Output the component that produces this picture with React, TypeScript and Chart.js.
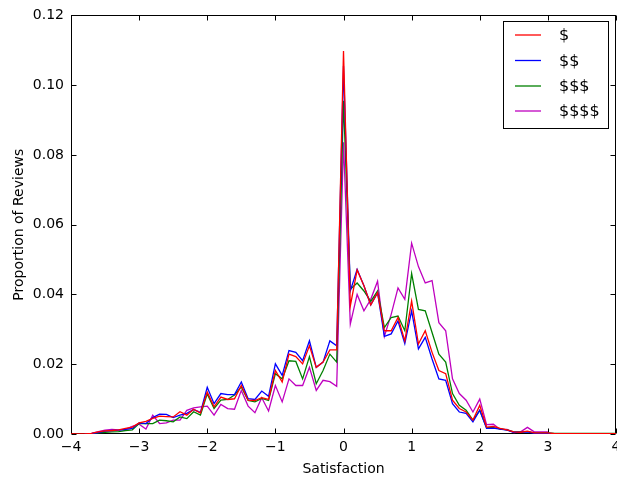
import React, { useEffect, useRef } from "react";
import { Chart, registerables } from "chart.js";

Chart.register(...registerables);

const satisfaction = [
  -4.0, -3.9, -3.8, -3.7, -3.6, -3.5, -3.4, -3.3, -3.2, -3.1,
  -3.0, -2.9, -2.8, -2.7, -2.6, -2.5, -2.4, -2.3, -2.2, -2.1,
  -2.0, -1.9, -1.8, -1.7, -1.6, -1.5, -1.4, -1.3, -1.2, -1.1,
  -1.0, -0.9, -0.8, -0.7, -0.6, -0.5, -0.4, -0.3, -0.2, -0.1,
  0.0, 0.1, 0.2, 0.3, 0.4, 0.5, 0.6, 0.7, 0.8, 0.9,
  1.0, 1.1, 1.2, 1.3, 1.4, 1.5, 1.6, 1.7, 1.8, 1.9,
  2.0, 2.1, 2.2, 2.3, 2.4, 2.5, 2.6, 2.7, 2.8, 2.9,
  3.0, 3.1, 3.2, 3.3, 3.4, 3.5, 3.6, 3.7, 3.8, 3.9,
  4.0,
];

const price1: (number | null)[] = [
  0, 0, 0, 0.0002, 0.0006, 0.0009, 0.001, 0.0012, 0.0016, 0.002,
  0.0032, 0.0036, 0.0045, 0.0051, 0.005, 0.0049, 0.0064, 0.0054, 0.0071, 0.006,
  0.012, 0.0078, 0.0106, 0.0099, 0.0101, 0.0139, 0.0097, 0.0096, 0.0104, 0.0099,
  0.0182, 0.0149, 0.0229, 0.0222, 0.0201, 0.0253, 0.0191, 0.0206, 0.0241, 0.0241,
  0.1098, 0.0367, 0.047, 0.0425, 0.037, 0.0405, 0.0296, 0.0296, 0.0334, 0.0267,
  0.0381, 0.0258, 0.0296, 0.0234, 0.0182, 0.0173, 0.0097, 0.0073, 0.0063, 0.004,
  0.0082, 0.002, 0.0022, 0.0016, 0.0012, 0.0006, 0.0005, 0.0008, 0.0003, 0.0003,
  0.0003, 0.0001, 0.0001, 0.0001, 0.0001, 0.0001, 0.0001, 0.0001, 0.0001, 0.0001,
  0.0001,
];

const price2: (number | null)[] = [
  null, null, 0, 0.0001, 0.0004, 0.0008, 0.001, 0.0011, 0.0013, 0.0016,
  0.0032, 0.003, 0.0047, 0.0057, 0.0056, 0.0047, 0.0054, 0.0059, 0.007, 0.0062,
  0.0134, 0.0087, 0.0116, 0.0113, 0.0113, 0.0149, 0.0101, 0.0099, 0.0123, 0.0108,
  0.0201, 0.0168, 0.0239, 0.0234, 0.021, 0.0267, 0.0191, 0.0206, 0.0267, 0.0253,
  0.1055, 0.041, 0.0472, 0.0425, 0.037, 0.0405, 0.028, 0.0287, 0.0324, 0.0259,
  0.0353, 0.0244, 0.0277, 0.0215, 0.0158, 0.0154, 0.0087, 0.0063, 0.0059, 0.0035,
  0.0068, 0.0016, 0.0017, 0.0014, 0.0011, 0.0005, 0.0005, 0.0006, 0.0002, 0.0002,
  0.0002, 0.0001, 0.0001, 0.0001, 0.0001, 0.0001, 0.0001, 0.0001, 0.0001, 0.0001,
  0.0001,
];

const price3: (number | null)[] = [
  null, null, 0, 0.0001, 0.0003, 0.0005, 0.0006, 0.0007, 0.001, 0.0012,
  0.003, 0.003, 0.003, 0.004, 0.0038, 0.0035, 0.0049, 0.0044, 0.0064, 0.0054,
  0.0115, 0.0073, 0.0097, 0.0099, 0.0112, 0.0135, 0.0096, 0.0092, 0.0102, 0.0096,
  0.0173, 0.0158, 0.021, 0.0208, 0.0158, 0.0222, 0.0144, 0.0182, 0.0229, 0.0206,
  0.0955, 0.0415, 0.0433, 0.041, 0.038, 0.041, 0.0305, 0.0334, 0.0338, 0.0296,
  0.046, 0.0357, 0.0353, 0.0291, 0.0229, 0.0206, 0.0116, 0.0082, 0.0068, 0.004,
  0.0068, 0.0018, 0.0018, 0.0015, 0.0012, 0.0006, 0.0006, 0.0007, 0.0003, 0.0003,
  0.0003, 0.0002, 0.0002, 0.0002, 0.0002, 0.0002, 0.0002, 0.0002, 0.0002, 0.0002,
  0.0002,
];

const price4: (number | null)[] = [
  null, null, null, 0.0002, 0.0007, 0.0011, 0.0013, 0.0012, 0.0013, 0.0022,
  0.0028, 0.0014, 0.0054, 0.003, 0.0032, 0.004, 0.004, 0.0068, 0.0075, 0.0078,
  0.008, 0.0054, 0.0085, 0.0073, 0.0071, 0.0125, 0.008, 0.0061, 0.0104, 0.0066,
  0.0139, 0.0092, 0.0158, 0.0139, 0.0139, 0.0191, 0.0125, 0.0154, 0.015, 0.0137,
  0.0836, 0.0315, 0.04, 0.0353, 0.0386, 0.0438, 0.028, 0.0343, 0.0419, 0.0386,
  0.0547, 0.048, 0.0433, 0.044, 0.0319, 0.0296, 0.0158, 0.0116, 0.0097, 0.0063,
  0.01, 0.0027, 0.0028, 0.0013, 0.0013, 0.0004, 0.0006, 0.0019, 0.0006, 0.0006,
  0.0006, null, null, null, null, null, null, null, null, null,
  null,
];

const seriesLabels = ["$", "$$", "$$$", "$$$$"];
const seriesColors = ["#ff0000", "#0000ff", "#008000", "#bf00bf"];
const seriesValues = [price1, price2, price3, price4];

const xTicks = [-4, -3, -2, -1, 0, 1, 2, 3, 4];
const yTicks = [0, 0.02, 0.04, 0.06, 0.08, 0.1, 0.12];

const FONT = "DejaVu Sans";

const framePlugin = {
  id: "frameTicks",
  beforeDatasetsDraw(chart: any) {
    const { ctx, chartArea } = chart;
    const { left, right, top, bottom } = chartArea;
    const xs = chart.scales.x;
    const ys = chart.scales.y;
    ctx.save();
    ctx.strokeStyle = "#000";
    ctx.lineWidth = 1;
    const L = Math.round(left) + 0.5;
    const R = Math.round(right) - 0.5;
    const T = Math.round(top) + 0.5;
    const B = Math.round(bottom) - 0.5;
    ctx.strokeRect(L, T, R - L, B - T);
    const len = 5;
    ctx.beginPath();
    for (const v of xTicks) {
      const px = Math.round(xs.getPixelForValue(v)) + 0.5;
      ctx.moveTo(px, B);
      ctx.lineTo(px, B - len);
      ctx.moveTo(px, T);
      ctx.lineTo(px, T + len);
    }
    for (const v of yTicks) {
      const py = Math.round(ys.getPixelForValue(v)) + 0.5;
      ctx.moveTo(L, py);
      ctx.lineTo(L + len, py);
      ctx.moveTo(R, py);
      ctx.lineTo(R - len, py);
    }
    ctx.stroke();
    ctx.restore();
  },
  afterDatasetsDraw(chart: any) {
    const { ctx } = chart;
    ctx.save();
    const bx = 503.5, by = 21.5, bw = 105, bh = 107;
    ctx.fillStyle = "#fff";
    ctx.fillRect(bx, by, bw, bh);
    ctx.strokeStyle = "#000";
    ctx.lineWidth = 1;
    ctx.strokeRect(bx, by, bw, bh);
    const rows = [35, 60.5, 86, 111];
    ctx.font = `16px "${FONT}"`;
    ctx.textBaseline = "middle";
    ctx.textAlign = "left";
    chart.data.datasets.forEach((ds: any, i: number) => {
      const y = rows[i];
      ctx.strokeStyle = ds.borderColor;
      ctx.lineWidth = 1.3;
      ctx.beginPath();
      ctx.moveTo(515, y);
      ctx.lineTo(541, y);
      ctx.stroke();
      ctx.fillStyle = "#000";
      ctx.fillText(ds.label, 559, y + 1);
    });
    ctx.restore();
  },
};

export default function App() {
  const ref = useRef<HTMLCanvasElement>(null);
  useEffect(() => {
    document.body.style.margin = "0";
    const canvas = ref.current!;
    const datasets = seriesValues.map((vals, i) => ({
      label: seriesLabels[i],
      data: satisfaction.map((x, j) => ({ x, y: vals[j] })),
      borderColor: seriesColors[i],
      backgroundColor: seriesColors[i],
      borderWidth: 1.3,
      pointRadius: 0,
      tension: 0,
      spanGaps: false,
    }));
    const chart = new Chart(canvas, {
      type: "line",
      data: { datasets },
      options: {
        animation: false,
        responsive: false,
        devicePixelRatio: 1,
        layout: { padding: { left: 0, right: 1, top: 12, bottom: 0 } },
        plugins: { legend: { display: false }, tooltip: { enabled: false } },
        scales: {
          x: {
            type: "linear",
            min: -4,
            max: 4,
            grid: { display: false, drawTicks: false },
            border: { display: false },
            afterFit: (s: any) => {
              s.height = 47;
              s.paddingLeft = 0;
              s.paddingRight = 0;
            },
            afterBuildTicks: (s: any) => {
              s.ticks = xTicks.map((v) => ({ value: v }));
            },
            ticks: {
              color: "#000",
              font: { family: FONT, size: 14 },
              padding: 5,
              maxRotation: 0,
              callback: (v: any) => String(v).replace("-", "\u2212"),
            },
            title: {
              display: true,
              text: "Satisfaction",
              color: "#000",
              font: { family: FONT, size: 14 },
              padding: { top: 0, bottom: 3 },
            },
          },
          y: {
            type: "linear",
            min: 0,
            max: 0.12,
            grid: { display: false, drawTicks: false },
            border: { display: false },
            afterFit: (s: any) => {
              s.width = 71;
            },
            afterBuildTicks: (s: any) => {
              s.ticks = yTicks.map((v) => ({ value: v }));
            },
            ticks: {
              color: "#000",
              font: { family: FONT, size: 14 },
              padding: 7,
              callback: (v: any) => Number(v).toFixed(2),
            },
            title: {
              display: true,
              text: "Proportion of Reviews",
              color: "#000",
              font: { family: FONT, size: 14 },
              padding: { top: 11, bottom: 0 },
            },
          },
        },
      },
      plugins: [framePlugin],
    });
    return () => chart.destroy();
  }, []);
  return (
    <canvas
      ref={ref}
      width={617}
      height={481}
      style={{ display: "block", width: 617, height: 481 }}
    />
  );
}
